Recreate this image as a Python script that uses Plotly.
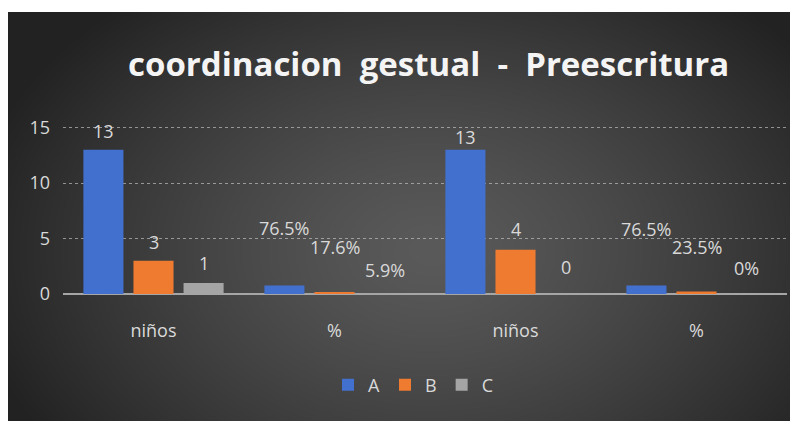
import base64, struct, zlib
import numpy as np
import plotly.graph_objects as go

# ---------------- data ----------------
categories = ["niños", "%", "niños", "%"]
series_names = ["A", "B", "C"]
values_A = [13, 0.765, 13, 0.765]
values_B = [3, 0.176, 4, 0.235]
values_C = [1, 0.059, 0, 0]
labels_A = ["13", "76.5%", "13", "76.5%"]
labels_B = ["3", "17.6%", "4", "23.5%"]
labels_C = ["1", "5.9%", "0", "0%"]
y_ticks = [0, 5, 10, 15]

# ---------------- style ----------------
OFF = 8                      # page body margin
W, H = 798 - OFF, 421 - OFF  # figure size
PL, PR, PT, PB = 63, 787, 126, 294   # plot area in page pixels
ML, MR, MT, MB = PL - OFF, (W + OFF) - PR, PT - OFF, (H + OFF) - PB
colors = ["#4270CF", "#EE7B30", "#A5A5A5"]
BARGAP = 0.17
TXT = "#d9d9d9"
FONT = "Open Sans"
label_shift = [
    [19, 58, 13, 57],
    [19, 45, 21, 44],
    [20, 23, 27, 26],
]

pw, ph = PR - PL, PB - PT

def px(xp):  # page x -> paper
    return (xp - PL) / pw

def py(yp):  # page y -> paper
    return (PB - yp) / ph

# ---------------- background gradient image ----------------
def png_uri(arr):
    h, w, _ = arr.shape
    raw = b"".join(b"\x00" + arr[r].tobytes() for r in range(h))
    def chunk(t, d):
        c = struct.pack(">I", len(d)) + t + d
        return c + struct.pack(">I", zlib.crc32(t + d) & 0xFFFFFFFF)
    png = b"\x89PNG\r\n\x1a\n" + chunk(b"IHDR", struct.pack(">IIBBBBB", w, h, 8, 2, 0, 0, 0))
    png += chunk(b"IDAT", zlib.compress(raw, 9)) + chunk(b"IEND", b"")
    return "data:image/png;base64," + base64.b64encode(png).decode()

bx0, by0, bx1, by1 = 8, 12, 798, 421
bw, bh = bx1 - bx0, by1 - by0
yy, xx = np.mgrid[0:bh, 0:bw]
cx, cy = 430 - bx0, 250 - by0
r = np.sqrt(((xx - cx) / 470.0) ** 2 + ((yy - cy) / 330.0) ** 2)
r = np.clip(r, 0, 1) ** 1.3
c_in, c_out = 90, 34
g = (c_in + (c_out - c_in) * r).astype(np.uint8)
img = np.stack([g, g, g], axis=-1)
bg_uri = png_uri(img)

fig = go.Figure()
xs = list(range(len(categories)))
for name, vals, col in zip(series_names, [values_A, values_B, values_C], colors):
    fig.add_trace(go.Bar(x=xs, y=vals, name=name, marker=dict(color=col, line=dict(width=0))))

slot = (1 - BARGAP) / 3
annotations = []
for k, (vals, labs) in enumerate(zip([values_A, values_B, values_C], [labels_A, labels_B, labels_C])):
    for i, (v, t) in enumerate(zip(vals, labs)):
        annotations.append(dict(
            x=i + (k - 1) * slot, y=v, xref="x", yref="y", text=t, showarrow=False,
            yanchor="middle", xanchor="center", yshift=label_shift[k][i],
            font=dict(family=FONT, size=18, color=TXT)))

annotations.append(dict(
    x=px(428), y=py(63), xref="paper", yref="paper",
    text="<b>coordinacion  gestual  -  Preescritura</b>", showarrow=False,
    xanchor="center", yanchor="middle",
    font=dict(family=FONT, size=33, color="#f4f4f4")))

fig.update_layout(
    width=W, height=H,
    margin=dict(l=ML, r=MR, t=MT, b=MB),
    paper_bgcolor="white", plot_bgcolor="rgba(0,0,0,0)",
    barmode="group", bargap=BARGAP, bargroupgap=0.2,
    showlegend=True,
    legend=dict(orientation="h", x=px(413), xanchor="center",
                y=py(385), yanchor="middle",
                font=dict(family=FONT, size=18, color=TXT),
                itemwidth=30, bgcolor="rgba(0,0,0,0)"),
    annotations=annotations,
    images=[dict(source=bg_uri, xref="paper", yref="paper",
                 x=px(bx0), y=py(by0),
                 sizex=bw / pw, sizey=bh / ph, xanchor="left", yanchor="top",
                 sizing="stretch", layer="below")],
    xaxis=dict(tickvals=xs, ticktext=categories, range=[-0.5, 3.5],
               showgrid=False, showline=False, zeroline=False, ticks="",
               tickfont=dict(family=FONT, size=18, color=TXT), ticklabelstandoff=24),
    yaxis=dict(range=[0, 15.15], tickvals=y_ticks, showgrid=True,
               gridcolor="rgba(200,200,200,0.65)", griddash="dot", gridwidth=1,
               zeroline=True, zerolinecolor="#a6a6a6", zerolinewidth=2,
               showline=False, ticks="",
               tickfont=dict(family=FONT, size=18, color=TXT), ticklabelstandoff=12),
)

fig.write_html("out.html")
